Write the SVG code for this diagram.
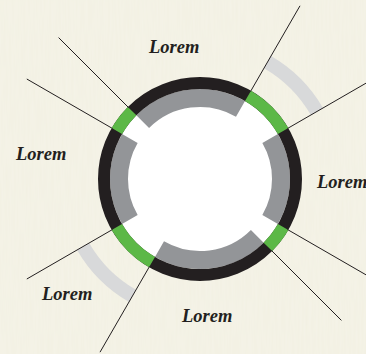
<svg xmlns="http://www.w3.org/2000/svg" width="366" height="354" viewBox="0 0 366 354">
  <defs>
    <filter id="tex" x="0" y="0" width="100%" height="100%">
      <feTurbulence type="fractalNoise" baseFrequency="0.5 0.03" numOctaves="2" seed="3" result="n"/>
      <feColorMatrix in="n" type="matrix" values="0 0 0 0 0.97  0 0 0 0 0.96  0 0 0 0 0.93  0 0 0 0.3 0"/>
    </filter>
  </defs>
  <style>
    .lg { fill: none; stroke: #d8d9da; stroke-width: 14; }
    .gr { fill: none; stroke: #939598; stroke-width: 18; }
    .gn { fill: none; stroke: #5cb847; stroke-width: 12; }
    .ln { stroke: #231f20; stroke-width: 1; fill: none; }
    .lbl { font-family: "Liberation Serif", "Times New Roman", serif; font-weight: bold; font-style: italic; font-size: 18.5px; fill: #231f20; }
  </style>
  <rect width="366" height="354" fill="#f2f0e2"/>
  <rect width="366" height="354" filter="url(#tex)"/>

  <g id="outer-arcs">
    <path class="lg" d="M267.5,62.09 A135,135 0 0 1 316.91,111.5"/>
    <path class="lg" d="M132.5,295.91 A135,135 0 0 1 83.09,246.5"/>
  </g>

  <g id="ring">
    <circle cx="200" cy="179" r="90" fill="#ffffff"/>
    <g id="inner-segments">
      <path class="gr" d="M142.72,121.72 A81,81 0 0 1 240.5,108.85"/>
      <path class="gr" d="M270.15,138.5 A81,81 0 0 1 270.15,219.5"/>
      <path class="gr" d="M257.28,236.28 A81,81 0 0 1 159.5,249.15"/>
      <path class="gr" d="M129.85,219.5 A81,81 0 0 1 129.85,138.5"/>
    </g>
    <circle cx="200" cy="179" r="96" fill="none" stroke="#231f20" stroke-width="12"/>
    <g id="green-segments">
      <path class="gn" d="M248,95.86 A96,96 0 0 1 283.14,131"/>
      <path class="gn" d="M283.14,227 A96,96 0 0 1 267.88,246.88"/>
      <path class="gn" d="M152,262.14 A96,96 0 0 1 116.86,227"/>
      <path class="gn" d="M116.86,131 A96,96 0 0 1 132.12,111.12"/>
    </g>
  </g>

  <g id="connectors">
    <line class="ln" x1="250.5" y1="91.53" x2="300" y2="5.79"/>
    <line class="ln" x1="287.47" y1="128.5" x2="373.2" y2="79"/>
    <line class="ln" x1="287.47" y1="229.5" x2="373.2" y2="279"/>
    <line class="ln" x1="271.42" y1="250.42" x2="341.42" y2="320.42"/>
    <line class="ln" x1="149.5" y1="266.47" x2="100" y2="352.2"/>
    <line class="ln" x1="112.53" y1="229.5" x2="26.8" y2="279"/>
    <line class="ln" x1="112.53" y1="128.5" x2="26.8" y2="79"/>
    <line class="ln" x1="128.58" y1="107.58" x2="58.58" y2="37.58"/>
  </g>

  <g id="label-top"><text class="lbl" x="149" y="53">Lorem</text></g>
  <g id="label-left"><text class="lbl" x="16" y="160">Lorem</text></g>
  <g id="label-right"><text class="lbl" x="317" y="188">Lorem</text></g>
  <g id="label-bottom-left"><text class="lbl" x="42" y="300">Lorem</text></g>
  <g id="label-bottom"><text class="lbl" x="182" y="322">Lorem</text></g>
</svg>
